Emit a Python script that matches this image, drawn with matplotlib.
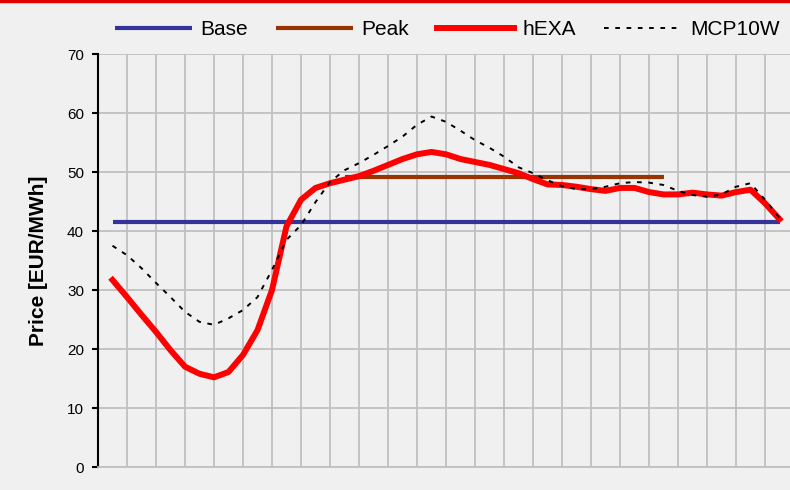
import numpy as np
import matplotlib.pyplot as plt
from matplotlib.lines import Line2D

# 价格数据（EUR/MWh），半小时分辨率，从第1小时中点到第24小时中点
hexa = [31.7, 28.8, 25.8, 22.9, 19.8, 17.0, 15.8, 15.2, 16.1, 19.0,
        23.2, 30.0, 40.8, 45.3, 47.3, 48.1, 48.7, 49.3, 50.2, 51.2,
        52.2, 53.0, 53.4, 53.0, 52.2, 51.7, 51.2, 50.5, 49.8, 48.8,
        47.9, 47.8, 47.5, 47.1, 46.8, 47.3, 47.3, 46.6, 46.2, 46.2,
        46.5, 46.2, 46.0, 46.6, 47.0, 44.7, 42.0]
mcp10w = [37.5, 35.9, 33.7, 31.2, 28.8, 26.3, 24.6, 24.1, 25.2, 26.6,
          28.8, 33.4, 38.5, 41.0, 44.9, 48.3, 50.3, 51.5, 52.9, 54.4,
          56.0, 58.0, 59.4, 58.5, 57.0, 55.4, 54.1, 52.6, 50.8, 49.8,
          48.6, 47.6, 47.1, 47.1, 47.5, 48.1, 48.3, 48.2, 47.8, 46.8,
          46.1, 45.8, 46.2, 47.5, 48.1, 45.3, 42.2]
base_price = 41.5
peak_price = 49.2
base_hours = (1, 24)
peak_hours = (9, 20)

t = 0.5 + 0.5 * np.arange(len(hexa))

plt.rcParams['font.family'] = ['Liberation Sans', 'DejaVu Sans']
bg = '#f0f0f0'

fig = plt.figure(figsize=(7.9, 4.9), dpi=100, facecolor=bg)
ax = fig.add_axes([98 / 790, 23 / 490, 696 / 790, 413 / 490])
ax.set_facecolor(bg)

# 顶部红色细条
fig.add_artist(Line2D([0, 1], [0.998, 0.998], transform=fig.transFigure,
                      color='#e00000', lw=2.5))

ax.plot([base_hours[0] - 0.5, base_hours[1] - 0.5], [base_price] * 2,
        color='#333399', lw=3.0, solid_capstyle='butt', label='Base', zorder=3)
ax.plot([peak_hours[0] - 0.5, peak_hours[1] - 0.5], [peak_price] * 2,
        color='#993300', lw=3.0, solid_capstyle='butt', label='Peak', zorder=3)
ax.plot(t, hexa, color='#ff0000', lw=4.3, label='hEXA', zorder=4,
        solid_joinstyle='round')
ax.plot(t, mcp10w, color='black', lw=1.4, linestyle=(0, (2.4, 3.4)),
        label='MCP10W', zorder=5)

ax.set_xlim(0, 24)
ax.set_ylim(0, 70)
ax.set_xticks(range(25))
ax.set_xticklabels([])
ax.set_yticks(range(0, 71, 10))
ax.tick_params(axis='x', length=0)
ax.tick_params(axis='y', length=4, width=1.5, direction='out',
               labelsize=11, colors='black', pad=6)
ax.grid(True, color='#c0c0c0', lw=1.3)
ax.set_axisbelow(True)

for s in ['top', 'right']:
    ax.spines[s].set_visible(False)
ax.spines['bottom'].set_color('#c0c0c0')
ax.spines['bottom'].set_linewidth(1.3)
ax.spines['left'].set_linewidth(1.5)

ax.set_ylabel('Price [EUR/MWh]', fontsize=15, fontweight='bold', labelpad=14)

fig.legend(loc='center', bbox_to_anchor=(0.566, 0.94), ncol=4, frameon=False,
           fontsize=15, handlelength=3.7, columnspacing=1.35, handletextpad=0.4)

fig.savefig('out.png', dpi=100, facecolor=bg)
